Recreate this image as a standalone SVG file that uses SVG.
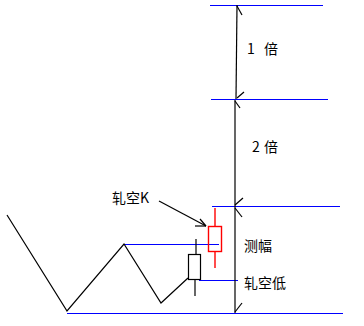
<svg xmlns="http://www.w3.org/2000/svg" width="364" height="326" viewBox="0 0 364 326">
<style>
.blue{stroke:#0000ff;stroke-width:1.2;fill:none}
.blk{stroke:#000;stroke-width:1.2;fill:none}
.red{stroke:#ff0000;stroke-width:1.4;fill:none}
.t{font-family:"Noto Sans CJK SC","Liberation Sans",sans-serif;font-size:14px;fill:#000}
</style>
<rect width="364" height="326" fill="#fff"/>
<g id="levels">
<line class="blue" x1="210" y1="5.5" x2="323" y2="5.5"/>
<line class="blue" x1="211" y1="99.5" x2="328" y2="99.5"/>
<line class="blue" x1="212" y1="206.5" x2="340" y2="206.5"/>
<line class="blue" x1="124" y1="244.5" x2="219" y2="244.5"/>
<line class="blue" x1="199" y1="280.5" x2="238" y2="280.5"/>
<line class="blue" x1="67" y1="313.5" x2="343" y2="313.5"/>
</g>
<g id="price">
<polyline class="blk" points="7,215 67,311 124,244 161,303 188,278"/>
</g>
<g id="candle-black">
<line class="blk" x1="196" y1="239" x2="196" y2="254"/>
<line class="blk" x1="195" y1="279" x2="195" y2="296"/>
<rect class="blk" x="188.5" y="254.5" width="12" height="25"/>
</g>
<g id="candle-red">
<line class="red" x1="215" y1="208" x2="215" y2="226"/>
<line class="red" x1="215" y1="252" x2="215" y2="268"/>
<rect class="red" x="208.5" y="226.5" width="13" height="25"/>
</g>
<g id="connectors">
<polyline class="blk" points="237,5 236,99"/>
<line class="blk" x1="237" y1="6" x2="242" y2="15"/>
<line class="blk" x1="237" y1="98" x2="244" y2="92"/>
<line class="blk" x1="235" y1="100" x2="235" y2="313"/>
<line class="blk" x1="235" y1="101" x2="240" y2="108"/>
<line class="blk" x1="235" y1="205" x2="243" y2="198"/>
<line class="blk" x1="235" y1="208" x2="242" y2="217"/>
<line class="blk" x1="235" y1="312" x2="242" y2="303"/>
<line class="blk" x1="159" y1="201" x2="206" y2="226"/>
<line class="blk" x1="195" y1="226" x2="206" y2="226"/>
<line class="blk" x1="200" y1="219" x2="206" y2="226"/>
</g>
<g id="labels">
<text class="t" x="247" y="54">1<tspan x="264">倍</tspan></text>
<text class="t" x="252" y="152">2<tspan x="264">倍</tspan></text>
<text class="t" x="112" y="203">轧空K</text>
<text class="t" x="244" y="251">测幅</text>
<text class="t" x="244" y="288">轧空低</text>
</g>
</svg>
